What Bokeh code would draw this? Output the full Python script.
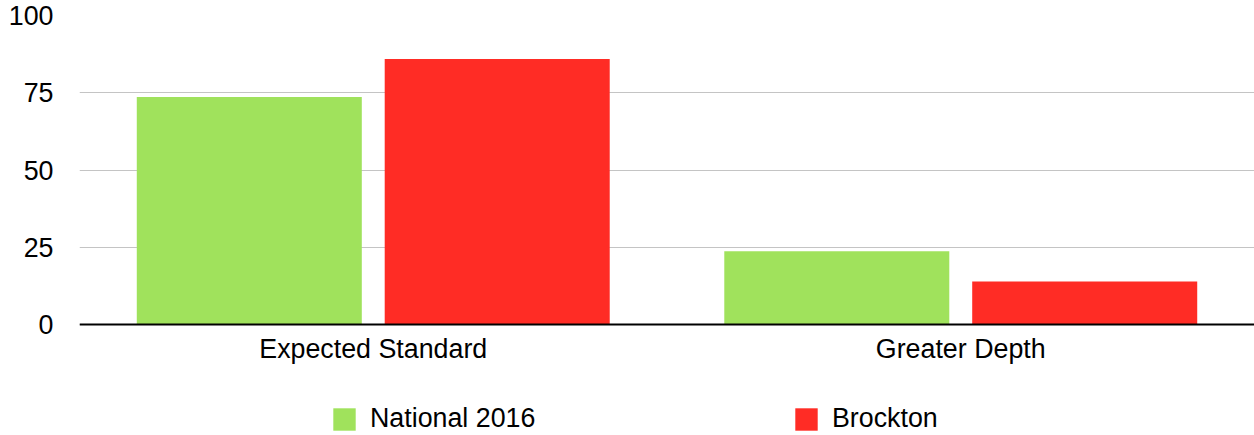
from bokeh.plotting import figure
from bokeh.models import (ColumnDataSource, FactorRange, Range1d, FixedTicker,
                          Legend, LegendItem)
from bokeh.transform import dodge
from bokeh.embed import file_html
from bokeh.resources import INLINE

categories = ["Expected Standard", "Greater Depth"]
national_2016 = [73.6, 23.7]
brockton = [85.9, 13.9]
y_ticks = [0, 25, 50, 75, 100]
series_names = ["National 2016", "Brockton"]
colors = ["#A0E25C", "#FF2C25"]

FONT = "Liberation Sans"
FS = "26.8px"

src = ColumnDataSource(dict(cat=categories, nat=national_2016, bro=brockton))

p = figure(x_range=FactorRange(*categories, range_padding=0),
           y_range=Range1d(-35.9, 100),
           width=1254, height=435, output_backend="svg", toolbar_location=None,
           min_border_left=79, min_border_right=0, min_border_top=15,
           min_border_bottom=0)

bw = 0.383
off = 0.211
r1 = p.vbar(x=dodge("cat", -off, range=p.x_range), top="nat", width=bw, bottom=0,
            source=src, fill_color=colors[0], line_color=None)
r2 = p.vbar(x=dodge("cat", off, range=p.x_range), top="bro", width=bw, bottom=0,
            source=src, fill_color=colors[1], line_color=None)

p.outline_line_color = None
p.background_fill_color = "white"
p.border_fill_color = "white"

p.xgrid.grid_line_color = None
p.ygrid.grid_line_color = "#C4C4C4"
p.ygrid.grid_line_width = 1.2
p.yaxis.ticker = FixedTicker(ticks=y_ticks)

p.yaxis.axis_line_color = None
p.yaxis.major_tick_line_color = None
p.yaxis.minor_tick_line_color = None
p.yaxis.major_tick_out = 0
p.yaxis.major_tick_in = 0
p.yaxis.major_label_standoff = 26
p.yaxis.major_label_text_font = FONT
p.yaxis.major_label_text_font_size = FS
p.yaxis.major_label_text_color = "black"

p.xaxis.fixed_location = 0
p.xaxis.axis_line_color = "black"
p.xaxis.axis_line_width = 2
p.xaxis.major_tick_line_color = None
p.xaxis.minor_tick_line_color = None
p.xaxis.major_tick_out = 0
p.xaxis.major_tick_in = 0
p.xaxis.major_label_standoff = 9
p.xaxis.major_label_text_font = FONT
p.xaxis.major_label_text_font_size = FS
p.xaxis.major_label_text_color = "black"

def make_legend(label, renderer, x):
    lg = Legend(items=[LegendItem(label=label, renderers=[renderer])],
                location=(x, 1), orientation="horizontal",
                glyph_width=28, glyph_height=28, label_height=22,
                label_standoff=12, padding=0, margin=0, spacing=0,
                border_line_color=None, background_fill_alpha=0,
                label_text_font=FONT, label_text_font_size=FS,
                label_text_color="black")
    p.add_layout(lg, "center")

make_legend(series_names[0], r1, 251)
make_legend(series_names[1], r2, 713)

open("out.html", "w").write(file_html(p, INLINE))
